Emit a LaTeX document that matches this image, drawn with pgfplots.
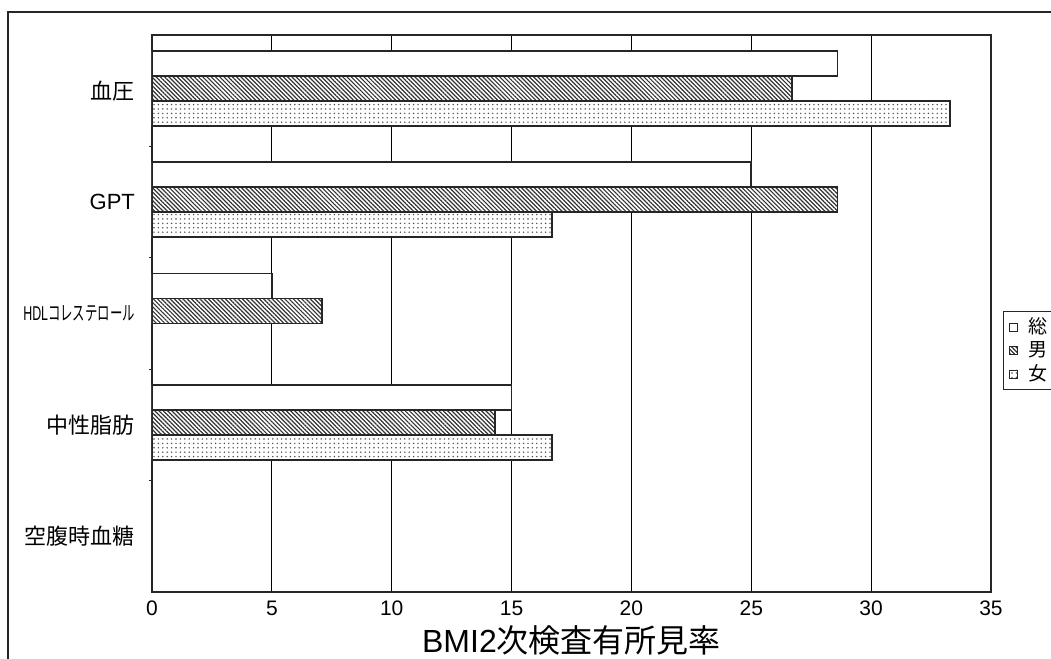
\documentclass[border=0pt]{standalone}
\usepackage{pgfplots}
\pgfplotsset{compat=1.18}
\usetikzlibrary{patterns.meta}
\usepackage{fontspec}
\setmainfont{Liberation Sans}
\newfontfamily\cjk{Noto Sans CJK JP}
\begin{document}
\begin{tikzpicture}
\begin{axis}[
  at={(76pt,33.5pt)}, anchor=south west,
  width=419.5pt, height=278.5pt, scale only axis,
  xbar, bar width=0.2244,
  xmin=0, xmax=35, ymin=-0.5, ymax=4.5,
  xtick={0,5,...,35},
  ytick={0,1,2,3,4},
  ytick pos=left,
  yticklabels={{\cjk 空腹時血糖},{\cjk 中性脂肪},{\scalebox{0.62}[1]{\fontsize{10}{12}\selectfont HDL{\cjk コレステロール}}},GPT,{\cjk 血圧}},
  minor ytick={0.5,1.5,2.5,3.5},
  major tick length=0pt, minor tick length=1.6pt,
  xmajorgrids, grid style={black, line width=0.4pt},
  axis line style={black!85, line width=0.75pt},
  minor tick style={black!85, line width=0.5pt},
  /pgf/number format/assume math mode=true,
  xticklabel style={font=\fontsize{10.5}{12}\selectfont, yshift=-1pt},
  yticklabel style={font=\fontsize{11}{13}\selectfont, xshift=-5pt},
  xlabel={BMI2{\cjk 次検査有所見率}},
  xlabel style={font=\fontsize{16}{18}\selectfont, yshift=2pt},
  legend style={at={(1.0143,0.5045)}, anchor=north west, draw=black!85, line width=0.5pt,
    font=\cjk\fontsize{9.5}{10}\selectfont, row sep=-1.5pt, inner xsep=3pt, inner ysep=1pt, cells={anchor=west},
    /tikz/every odd column/.append style={column sep=3pt}},
  legend image code/.code={\draw[#1, line width=0.4pt] (0pt,-2pt) rectangle (4pt,2pt);},
]
\addplot[draw=black!85, line width=0.9pt, fill=white, bar shift=0.246]
  coordinates {(28.6,4) (25.0,3) (5.0,2) (15.0,1)};
\addplot[draw=black!85, line width=0.9pt, fill=white,
  postaction={pattern={Lines[angle=-45, distance=1.5pt, line width=0.6pt]}, pattern color=black!80}, bar shift=0.022]
  coordinates {(26.7,4) (28.6,3) (7.1,2) (14.3,1)};
\addplot[draw=black!85, line width=0.9pt, fill=white,
  postaction={pattern={Dots[distance=2.2pt, radius=0.4pt]}, pattern color=black!70}, bar shift=-0.202]
  coordinates {(33.3,4) (16.7,3) (16.7,1)};
\legend{総,男,女}
\end{axis}
\draw[black!85, line width=0.75pt] (4pt,-5pt) -- (4pt,323.5pt) -- (560pt,323.5pt);
\pgfresetboundingbox
\useasboundingbox (0,0) rectangle (525.5pt,329.5pt);
\end{tikzpicture}
\end{document}
